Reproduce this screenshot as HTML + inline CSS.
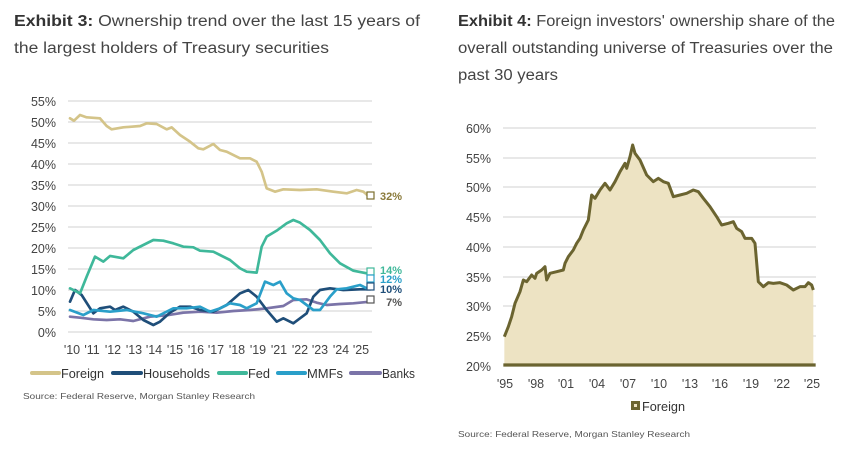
<!DOCTYPE html>
<html><head><meta charset="utf-8"><style>
html,body{margin:0;padding:0;background:#fff;}
svg{display:block;font-family:"Liberation Sans",sans-serif;}
</style></head><body>
<svg width="857" height="457" viewBox="0 0 857 457" xmlns="http://www.w3.org/2000/svg">
<rect width="857" height="457" fill="#fff"/>
<!-- Titles -->
<g font-size="15.5" fill="#444">
<text x="14" y="26" textLength="406" lengthAdjust="spacingAndGlyphs"><tspan font-weight="bold" fill="#333">Exhibit 3:</tspan>    Ownership trend over the last 15 years of</text>
<text x="14" y="53" textLength="315" lengthAdjust="spacingAndGlyphs">the largest holders of Treasury securities</text>
<text x="458" y="26" textLength="377" lengthAdjust="spacingAndGlyphs"><tspan font-weight="bold" fill="#333">Exhibit 4:</tspan>    Foreign investors' ownership share of the</text>
<text x="458" y="53" textLength="375" lengthAdjust="spacingAndGlyphs">overall outstanding universe of Treasuries over the</text>
<text x="458" y="80" textLength="100" lengthAdjust="spacingAndGlyphs">past 30 years</text>
</g>

<!-- LEFT CHART -->
<g stroke="#d0d0d0" stroke-width="1">
<line x1="68" x2="372" y1="101" y2="101"/><line x1="68" x2="372" y1="122" y2="122"/>
<line x1="68" x2="372" y1="143" y2="143"/><line x1="68" x2="372" y1="164" y2="164"/>
<line x1="68" x2="372" y1="185" y2="185"/><line x1="68" x2="372" y1="206" y2="206"/>
<line x1="68" x2="372" y1="227" y2="227"/><line x1="68" x2="372" y1="248" y2="248"/>
<line x1="68" x2="372" y1="269" y2="269"/><line x1="68" x2="372" y1="290" y2="290"/>
<line x1="68" x2="372" y1="311" y2="311"/><line x1="68" x2="372" y1="332" y2="332"/>
</g>
<g font-size="12.5" fill="#444" text-anchor="end">
<text x="56" y="106">55%</text><text x="56" y="127">50%</text><text x="56" y="148">45%</text>
<text x="56" y="169">40%</text><text x="56" y="190">35%</text><text x="56" y="211">30%</text>
<text x="56" y="232">25%</text><text x="56" y="253">20%</text><text x="56" y="274">15%</text>
<text x="56" y="295">10%</text><text x="56" y="316">5%</text><text x="56" y="337">0%</text>
</g>
<g font-size="12.5" fill="#444" text-anchor="middle">
<text x="72" y="354">'10</text><text x="92" y="354">'11</text><text x="113" y="354">'12</text>
<text x="134" y="354">'13</text><text x="154" y="354">'14</text><text x="175" y="354">'15</text>
<text x="196" y="354">'16</text><text x="216" y="354">'17</text><text x="237" y="354">'18</text>
<text x="258" y="354">'19</text><text x="279" y="354">'21</text><text x="300" y="354">'22</text>
<text x="320" y="354">'23</text><text x="341" y="354">'24</text><text x="361" y="354">'25</text>
</g>
<g transform="translate(0,90) scale(0.33333)" fill="none" stroke-width="8" stroke-linejoin="round" stroke-linecap="round">
<polyline stroke="#7b74a8" points="210,680 240,683 280,688 320,690 360,688 400,693 450,680 500,676 550,668 600,665 650,668 700,663 750,660 800,655 850,648 880,630 920,628 950,638 980,645 1020,642 1060,640 1110,635"/>
<polyline stroke="#1f4e79" points="210,635 225,600 245,615 280,670 300,655 330,650 345,660 370,650 400,665 430,690 460,705 480,695 510,668 540,650 570,650 600,660 640,665 680,645 720,610 745,600 770,620 800,660 830,695 850,685 880,700 920,670 940,620 960,600 990,595 1030,600 1080,598 1110,598"/>
<polyline stroke="#2a9fc9" points="210,660 250,675 280,660 330,665 380,660 430,670 470,680 520,655 560,655 600,650 630,665 660,655 690,640 720,645 740,655 770,640 795,575 820,585 840,575 860,610 880,625 900,630 940,660 960,660 990,620 1010,598 1040,595 1060,590 1080,585 1100,595 1110,585"/>
<polyline stroke="#3fb89a" points="210,595 240,610 260,560 285,500 310,515 330,498 370,505 400,480 430,465 460,450 490,452 520,460 550,470 580,472 600,482 640,485 660,495 690,510 720,535 740,545 770,548 785,470 800,440 830,422 860,400 880,390 900,398 930,420 960,450 990,490 1020,520 1060,542 1100,550"/>
<polyline stroke="#d4c489" points="210,85 222,92 240,75 260,82 300,85 320,108 335,118 370,112 420,108 440,100 470,102 500,118 515,112 540,135 570,155 595,175 610,178 640,162 660,180 680,185 720,205 750,205 770,215 785,245 800,295 825,305 850,298 900,300 950,298 1000,305 1040,310 1070,300 1090,305 1105,318"/>
</g>
<g fill="#fff" stroke-width="1.2">
<rect x="367" y="192" width="7" height="7" stroke="#7b6f2e"/>
<rect x="367" y="268" width="7" height="7" stroke="#3fb89a"/>
<rect x="367" y="275" width="7" height="7" stroke="#2a9fc9"/>
<rect x="367" y="283" width="7" height="7" stroke="#1f4e79"/>
<rect x="367" y="296" width="7" height="7" stroke="#555"/>
</g>
<g font-size="11" font-weight="bold" text-anchor="end">
<text x="402" y="200" fill="#8a7a3a">32%</text>
<text x="402" y="274" fill="#3fb89a">14%</text>
<text x="402" y="283" fill="#2a9fc9">12%</text>
<text x="402" y="293" fill="#1f4e79">10%</text>
<text x="402" y="306" fill="#555">7%</text>
</g>
<!-- legend left -->
<g stroke-width="4" stroke-linecap="round">
<line x1="32" x2="59" y1="373" y2="373" stroke="#d4c489"/>
<line x1="113" x2="141" y1="373" y2="373" stroke="#1f4e79"/>
<line x1="219" x2="246" y1="373" y2="373" stroke="#3fb89a"/>
<line x1="278" x2="305" y1="373" y2="373" stroke="#2a9fc9"/>
<line x1="351" x2="380" y1="373" y2="373" stroke="#7b74a8"/>
</g>
<g font-size="13" fill="#333">
<text x="61" y="378" textLength="43" lengthAdjust="spacingAndGlyphs">Foreign</text>
<text x="143" y="378" textLength="67" lengthAdjust="spacingAndGlyphs">Households</text>
<text x="248" y="378" textLength="22" lengthAdjust="spacingAndGlyphs">Fed</text>
<text x="307" y="378" textLength="36" lengthAdjust="spacingAndGlyphs">MMFs</text>
<text x="382" y="378" textLength="33" lengthAdjust="spacingAndGlyphs">Banks</text>
</g>
<text x="23" y="399" font-size="8.5" fill="#555" textLength="232" lengthAdjust="spacingAndGlyphs">Source: Federal Reserve, Morgan Stanley Research</text>

<!-- RIGHT CHART -->
<g stroke="#d0d0d0" stroke-width="1">
<line x1="503" x2="816" y1="128" y2="128"/><line x1="503" x2="816" y1="158" y2="158"/>
<line x1="503" x2="816" y1="187" y2="187"/><line x1="503" x2="816" y1="217" y2="217"/>
<line x1="503" x2="816" y1="247" y2="247"/><line x1="503" x2="816" y1="277" y2="277"/>
<line x1="503" x2="816" y1="306" y2="306"/><line x1="503" x2="816" y1="336" y2="336"/>
</g>
<g transform="translate(440,110) scale(0.33333)">
<polygon fill="#ede3c3" points="193,767 193,680 205,650 215,620 225,580 240,545 250,510 260,515 275,495 285,505 290,490 305,480 315,470 320,510 330,490 350,485 370,480 375,460 385,440 400,420 410,400 420,385 430,360 445,330 455,255 465,265 480,240 495,220 510,240 525,215 540,185 555,160 560,175 570,140 578,105 585,130 600,150 620,195 640,215 655,205 670,215 685,220 700,260 720,255 740,250 760,240 775,245 790,265 810,290 830,320 845,345 865,340 880,335 890,355 905,365 915,385 935,385 945,400 955,515 970,530 985,518 1000,520 1020,518 1040,525 1060,540 1080,530 1095,530 1105,518 1115,525 1120,540 1120,767"/>
<polyline fill="none" stroke="#6b6430" stroke-width="9" stroke-linejoin="round" points="193,680 205,650 215,620 225,580 240,545 250,510 260,515 275,495 285,505 290,490 305,480 315,470 320,510 330,490 350,485 370,480 375,460 385,440 400,420 410,400 420,385 430,360 445,330 455,255 465,265 480,240 495,220 510,240 525,215 540,185 555,160 560,175 570,140 578,105 585,130 600,150 620,195 640,215 655,205 670,215 685,220 700,260 720,255 740,250 760,240 775,245 790,265 810,290 830,320 845,345 865,340 880,335 890,355 905,365 915,385 935,385 945,400 955,515 970,530 985,518 1000,520 1020,518 1040,525 1060,540 1080,530 1095,530 1105,518 1115,525 1120,540"/>
<line x1="190" x2="1127" y1="765" y2="765" stroke="#6b6430" stroke-width="10"/>
</g>
<g font-size="12.5" fill="#444" text-anchor="end">
<text x="491" y="133">60%</text><text x="491" y="163">55%</text><text x="491" y="192">50%</text>
<text x="491" y="222">45%</text><text x="491" y="252">40%</text><text x="491" y="282">35%</text>
<text x="491" y="311">30%</text><text x="491" y="341">25%</text><text x="491" y="371">20%</text>
</g>
<g font-size="12.5" fill="#444" text-anchor="middle">
<text x="505" y="388">'95</text><text x="536" y="388">'98</text><text x="566" y="388">'01</text>
<text x="597" y="388">'04</text><text x="628" y="388">'07</text><text x="659" y="388">'10</text>
<text x="690" y="388">'13</text><text x="720" y="388">'16</text><text x="751" y="388">'19</text>
<text x="782" y="388">'22</text><text x="812" y="388">'25</text>
</g>
<rect x="631" y="401" width="9" height="9" fill="#6b6430"/>
<rect x="634" y="404" width="3" height="3" fill="#ede3c3"/>
<text x="642" y="411" font-size="13" fill="#333" textLength="43" lengthAdjust="spacingAndGlyphs">Foreign</text>
<text x="458" y="437" font-size="8.5" fill="#555" textLength="232" lengthAdjust="spacingAndGlyphs">Source: Federal Reserve, Morgan Stanley Research</text>
</svg>
</body></html>
